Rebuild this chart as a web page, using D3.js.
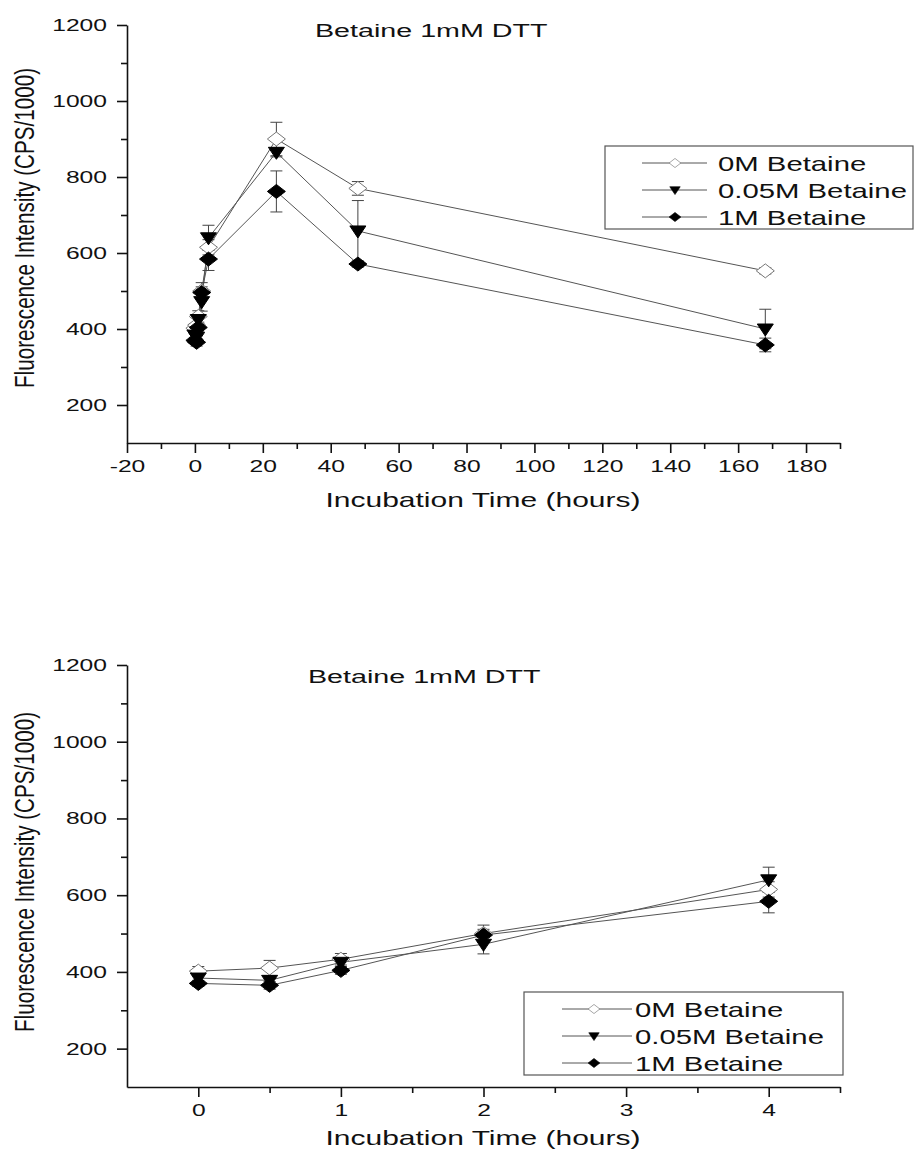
<!DOCTYPE html>
<head>
    <meta charset="utf-8">
    <script src="https://d3js.org/d3.v7.min.js"></script>
    <style>
        body { margin: 0; background: #fff; }
        svg text { font-family: 'Liberation Sans', Arial, sans-serif; fill: #111; }
    </style>
</head>
<body>
    <div id='container'></div>
    <script>
        // data (CPS/1000)
        const times = [0, 0.5, 1, 2, 4, 24, 48, 168];
        const seriesNames = ['0M Betaine', '0.05M Betaine', '1M Betaine'];
        const vals0M = [402, 410, 433, 500, 615, 900, 770, 553];
        const err0M = [12, 20, 15, 22, 20, 44, 18, 8];
        const vals005M = [384, 378, 425, 472, 640, 865, 658, 400];
        const err005M = [10, 12, 12, 25, 33, 12, 80, 52];
        const vals1M = [370, 365, 404, 496, 584, 762, 571, 358];
        const err1M = [8, 10, 10, 15, 30, 54, 8, 18];

        const topXTicks = [-20, 0, 20, 40, 60, 80, 100, 120, 140, 160, 180];
        const topXMinor = [-10, 10, 30, 50, 70, 90, 110, 130, 150, 170, 190];
        const botXTicks = [0, 1, 2, 3, 4];
        const botXMinor = [0.5, 1.5, 2.5, 3.5, 4.5];
        const yTicks = [200, 400, 600, 800, 1000, 1200];
        const yMinor = [300, 500, 700, 900, 1100];

        const chartTitle = 'Betaine 1mM DTT';
        const xTitle = 'Incubation Time (hours)';
        const yTitle = 'Fluorescence Intensity (CPS/1000)';

        const w = 915, h = 1153;

        const svg = d3.select('#container').append('svg')
            .attr('width', w).attr('height', h);

        const shapes = [
            {d: 'M0,-7L9,0L0,7L-9,0Z', fill: '#fff', stroke: '#777'},
            {d: 'M-8,-5L8,-5L0,7Z', fill: '#000', stroke: '#000'},
            {d: 'M0,-7L9,0L0,7L-9,0Z', fill: '#000', stroke: '#000'}
        ];
        const series = [
            {name: seriesNames[0], vals: vals0M, err: err0M},
            {name: seriesNames[1], vals: vals005M, err: err005M},
            {name: seriesNames[2], vals: vals1M, err: err1M}
        ];

        // the original figure is stretched sideways, so text gets a x-scale
        function wtext(g, x, y, str, size, sx, anchor) {
            return g.append('text')
                .attr('transform', 'translate(' + x + ',' + y + ') scale(' + sx + ',1)')
                .attr('text-anchor', anchor || 'start')
                .style('font-size', size + 'px')
                .text(str);
        }

        function drawChart(cfg) {
            const g = svg.append('g');
            const x = d3.scaleLinear().domain(cfg.xDomain).range([127, 840]);
            const y = d3.scaleLinear().domain([100, 1200]).range([cfg.y0, cfg.y1]);
            const n = cfg.n;

            const line = d3.line().x((d, i) => x(times[i])).y(d => y(d));
            series.forEach(s => {
                g.append('path')
                    .attr('d', line(s.vals.slice(0, n)))
                    .attr('fill', 'none')
                    .attr('stroke', '#555')
                    .attr('stroke-width', 1);
            });

            // error bars
            series.forEach(s => {
                s.vals.slice(0, n).forEach((v, i) => {
                    const cx = x(times[i]);
                    const t = y(v + s.err[i]), b = y(v - s.err[i]);
                    const eb = g.append('g').attr('stroke', '#444').attr('stroke-width', 1);
                    eb.append('line').attr('x1', cx).attr('x2', cx).attr('y1', t).attr('y2', b);
                    eb.append('line').attr('x1', cx - 6).attr('x2', cx + 6).attr('y1', t).attr('y2', t);
                    eb.append('line').attr('x1', cx - 6).attr('x2', cx + 6).attr('y1', b).attr('y2', b);
                });
            });

            series.forEach((s, k) => {
                g.selectAll(null)
                    .data(s.vals.slice(0, n))
                    .enter()
                    .append('path')
                    .attr('d', shapes[k].d)
                    .attr('transform', (d, i) => 'translate(' + x(times[i]) + ',' + y(d) + ')')
                    .attr('fill', shapes[k].fill)
                    .attr('stroke', shapes[k].stroke)
                    .attr('stroke-width', 1);
            });

            // axes
            const xAxis = g.append('g')
                .attr('transform', 'translate(0,' + cfg.y0 + ')')
                .call(d3.axisBottom(x).tickValues(cfg.xTicks).tickSize(10).tickSizeOuter(0)
                    .tickPadding(7).tickFormat(d => String(d)));
            g.append('g')
                .attr('transform', 'translate(0,' + cfg.y0 + ')')
                .call(d3.axisBottom(x).tickValues(cfg.xMinor).tickSize(6).tickFormat(''))
                .select('.domain').remove();
            const yAxis = g.append('g')
                .attr('transform', 'translate(127,0)')
                .call(d3.axisLeft(y).tickValues(yTicks).tickSize(10).tickSizeOuter(0)
                    .tickFormat(d => String(d)));
            g.append('g')
                .attr('transform', 'translate(127,0)')
                .call(d3.axisLeft(y).tickValues(yMinor).tickSize(6).tickFormat(''))
                .select('.domain').remove();

            g.selectAll('.domain, .tick line').attr('stroke', '#111').attr('stroke-width', 1.6);
            xAxis.selectAll('.tick text')
                .attr('transform', 'scale(1.45,1)')
                .style('font-size', '17px')
                .attr('font-family', null);
            yAxis.selectAll('.tick text')
                .attr('x', -20 / 1.45)
                .attr('transform', 'scale(1.45,1)')
                .style('font-size', '17px')
                .attr('font-family', null);

            // titles
            wtext(g, cfg.titleX, cfg.titleY, chartTitle, 18.5, 1.55, 'start');
            wtext(g, 483, cfg.y0 + cfg.xTitleDy, xTitle, 20, 1.5, 'middle');
            g.append('text')
                .attr('transform', 'translate(34,' + (cfg.y0 - 215) + ') scale(1.3,1) rotate(-90)')
                .attr('text-anchor', 'middle')
                .attr('textLength', 320)
                .attr('lengthAdjust', 'spacingAndGlyphs')
                .style('font-size', '21px')
                .text(yTitle);

            // legend
            const lg = g.append('g').attr('transform', 'translate(' + cfg.legX + ',' + cfg.legY + ')');
            lg.append('rect')
                .attr('width', cfg.legW).attr('height', 83)
                .attr('fill', '#fff').attr('stroke', '#555').attr('stroke-width', 1.2);
            series.forEach((s, k) => {
                const ry = 17 + k * 27;
                lg.append('line')
                    .attr('x1', cfg.legLine[0]).attr('x2', cfg.legLine[1])
                    .attr('y1', ry).attr('y2', ry)
                    .attr('stroke', '#555').attr('stroke-width', 1);
                lg.append('path')
                    .attr('d', shapes[k].d)
                    .attr('transform', 'translate(' + cfg.legMark + ',' + ry + ') scale(0.65)')
                    .attr('fill', shapes[k].fill)
                    .attr('stroke', shapes[k].stroke);
                wtext(lg, cfg.legText, ry + 7.5, s.name, 20.5, 1.43, 'start');
            });
        }

        drawChart({
            xDomain: [-20, 190], xTicks: topXTicks, xMinor: topXMinor,
            y0: 443, y1: 25, n: 8, xTitleDy: 64,
            titleX: 315, titleY: 37,
            legX: 605, legY: 146, legW: 308, legLine: [37, 102], legMark: 70, legText: 113
        });
        drawChart({
            xDomain: [-0.5, 4.5], xTicks: botXTicks, xMinor: botXMinor,
            y0: 1087, y1: 665, n: 5, xTitleDy: 58,
            titleX: 308, titleY: 683,
            legX: 524, legY: 992, legW: 319, legLine: [38, 108], legMark: 70, legText: 111
        });
    </script>
</body>
